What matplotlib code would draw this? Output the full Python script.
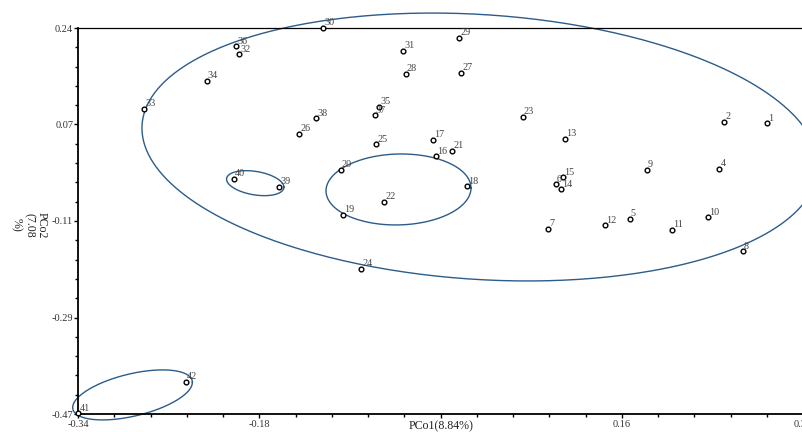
import matplotlib
matplotlib.use("Agg")
import matplotlib.pyplot as plt
from matplotlib.ticker import AutoMinorLocator
import numpy as np

# sample scores on the first two principal coordinates
sample_ids = [1, 2, 4, 5, 6, 7, 8, 9, 10, 11, 12, 13, 14, 15, 16, 17, 18, 19, 20, 21,
              22, 23, 24, 25, 26, 27, 28, 29, 30, 31, 32, 33, 34, 35, 36, 37, 38, 39, 40, 41, 42]
pco1 = [0.2970, 0.2573, 0.2527, 0.1698, 0.1015, 0.0946, 0.2745, 0.1858, 0.2419, 0.2087,
        0.1467, 0.1103, 0.1064, 0.1082, -0.0089, -0.0117, 0.0198, -0.0951, -0.0972, 0.0056,
        -0.0569, 0.0710, -0.0785, -0.0646, -0.1355, 0.0139, -0.0372, 0.0124, -0.1133, -0.0394,
        -0.1912, -0.2790, -0.2211, -0.0618, -0.1940, -0.0658, -0.1198, -0.1540, -0.1958, -0.3397, -0.2402]
pco2 = [0.0647, 0.0666, -0.0193, -0.1107, -0.0475, -0.1292, -0.1707, -0.0212, -0.1082, -0.1310,
        -0.1229, 0.0364, -0.0567, -0.0346, 0.0040, 0.0340, -0.0512, -0.1040, -0.0212, 0.0138,
        -0.0795, 0.0769, -0.2038, 0.0261, 0.0456, 0.1578, 0.1554, 0.2211, 0.2400, 0.1983,
        0.1916, 0.0916, 0.1425, 0.0947, 0.2063, 0.0794, 0.0739, -0.0524, -0.0377, -0.4687, -0.4106]

# group ellipses: centre x, centre y, half width, half height, correlation
ell_cx = [0.0315, -0.0438, -0.1762, -0.2896]
ell_cy = [0.0211, -0.0570, -0.0454, -0.4349]
ell_sx = [0.3124, 0.0670, 0.0265, 0.0553]
ell_sy = [0.2464, 0.0653, 0.0230, 0.0460]
ell_rho = [-0.141, 0.04, -0.318, 0.502]

xtick_pos = [-0.34, -0.1725, -0.005, 0.1625, 0.33]
xtick_lab = ['-0.34', '-0.18', '', '0.16', '0.33']
ytick_pos = [0.24, 0.0625, -0.115, -0.2925, -0.47]
ytick_lab = ['0.24', '0.07', '-0.11', '-0.29', '-0.47']

plt.rcParams['font.family'] = ['Liberation Serif', 'DejaVu Serif']

fig = plt.figure(figsize=(8.02, 4.32), dpi=100)
ax = fig.add_axes([78 / 802, 18 / 432, 725 / 802, 386 / 432])
ax.set_xlim(-0.34, 0.33)
ax.set_ylim(-0.47, 0.24)

t = np.linspace(0, 2 * np.pi, 400)
for cx, cy, sx, sy, r in zip(ell_cx, ell_cy, ell_sx, ell_sy, ell_rho):
    ex = cx + sx * np.cos(t)
    ey = cy + sy * (r * np.cos(t) + np.sqrt(1 - r * r) * np.sin(t))
    ax.plot(ex, ey, color='#2c5c8a', lw=1.0, clip_on=False, zorder=2)

ax.plot(pco1, pco2, 'o', ms=3.4, mfc='white', mec='black', mew=1.0,
        clip_on=False, zorder=4)
for sid, x, y in zip(sample_ids, pco1, pco2):
    ax.annotate(str(sid), (x, y), xytext=(0.8, 2.0), textcoords='offset points',
                ha='left', va='baseline', fontsize=7.3, color='#444444',
                annotation_clip=False, zorder=5)

ax.set_xticks(xtick_pos)
ax.set_xticklabels(xtick_lab)
ax.set_yticks(ytick_pos)
ax.set_yticklabels(ytick_lab)
ax.xaxis.set_minor_locator(AutoMinorLocator(5))
ax.yaxis.set_minor_locator(AutoMinorLocator(5))
ax.tick_params(which='major', length=3, width=1, pad=1.5, labelsize=7.5,
               labelcolor='#333333', direction='out')
ax.tick_params(which='minor', length=2, width=1, direction='out')
ax.tick_params(axis='y', pad=0.5)

ax.spines['left'].set_linewidth(1.3)
ax.spines['bottom'].set_linewidth(1.3)
ax.spines['top'].set_linewidth(0.9)
ax.spines['right'].set_visible(False)

fig.text(441 / 802, 1 - 426.5 / 432, 'PCo1(8.84%)', ha='center', va='center',
         fontsize=8.6, color='#222222')
fig.text(29 / 802, 1 - 225 / 432, 'PCo2\n(7.08\n%)', rotation=270, ha='center',
         va='center', multialignment='center', fontsize=8.6, color='#222222',
         linespacing=1.1)

fig.savefig('out.png', dpi=100)
